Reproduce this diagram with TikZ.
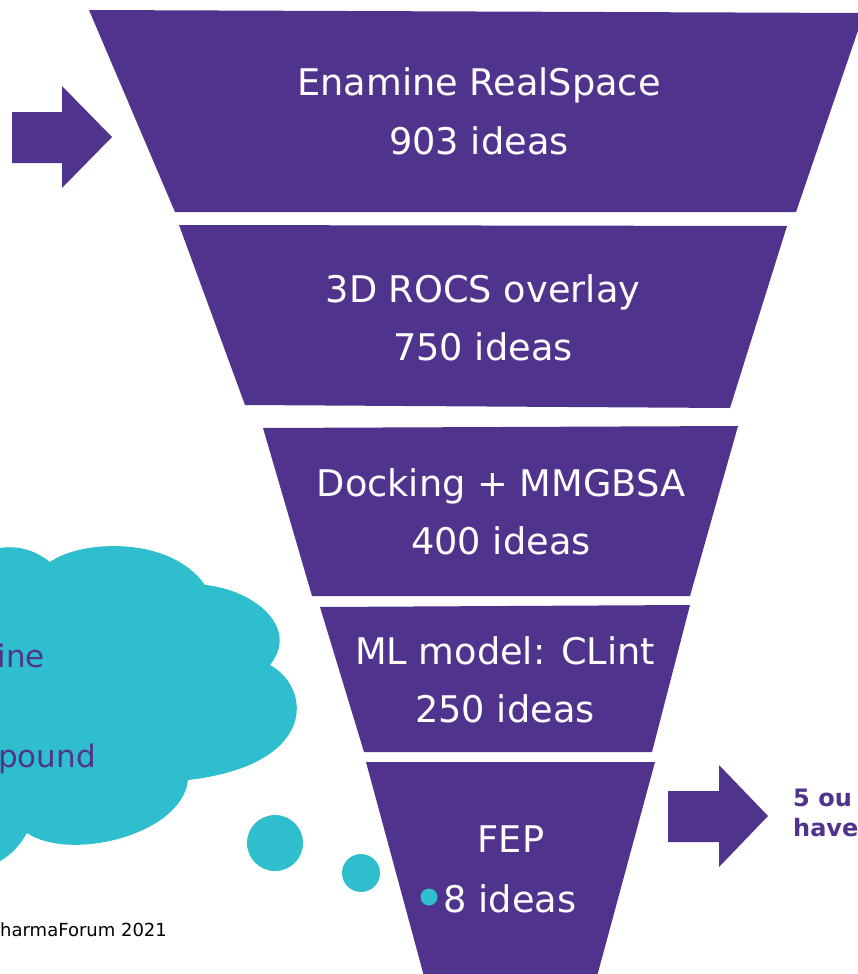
\documentclass[tikz,border=0pt]{standalone}
\usepackage{fontspec}
\setmainfont{DejaVu Sans}
\definecolor{fpurple}{RGB}{80,51,141}
\definecolor{fcyan}{RGB}{46,190,206}
\begin{document}
\begin{tikzpicture}[x=1pt,y=-1pt,
  stage/.style={fill=fpurple},
  lbl/.style={anchor=base, text=white, font=\fontsize{36.7}{42}\selectfont, inner sep=0pt},
  cloudtxt/.style={anchor=base east, text=fpurple, font=\fontsize{31}{36}\selectfont, inner sep=0pt},
  sidetxt/.style={anchor=base west, inner sep=0pt, text=fpurple, font=\bfseries\fontsize{24}{28}\selectfont},
  bubble/.style={circle, fill=fcyan, inner sep=0pt},
  bigarrow/.style={fill=fpurple}]
\useasboundingbox (0,0) rectangle (858,974);
\clip (0,0) rectangle (858,974);

% funnel stages
\path[stage] (89,10) -- (864,13) -- (796,212) -- (175,212) -- cycle;
\path[stage] (179,225) -- (787,226) -- (730,408) -- (245,405) -- cycle;
\path[stage] (263,428) -- (738,426) -- (690,596) -- (312,596) -- cycle;
\path[stage] (320,607) -- (690,605) -- (652,752) -- (364,752) -- cycle;
\path[stage] (366,762) -- (655,762) -- (596,980) -- (425,980) -- cycle;

% arrows
\path[bigarrow] (12,112) -- (62,112) -- (62,86) -- (112,137) -- (62,188) -- (62,163) -- (12,163) -- cycle;
\path[bigarrow] (668,791) -- (719,791) -- (719,765) -- (768,816) -- (719,867) -- (719,842) -- (668,842) -- cycle;

% cloud
\fill[fcyan] (-10,550) .. controls (15,543) and (35,550) .. (50,562)
  .. controls (80,540) and (170,535) .. (205,585)
  .. controls (255,590) and (300,628) .. (270,665)
  .. controls (312,688) and (318,765) .. (188,780)
  .. controls (182,835) and (70,862) .. (27,833)
  .. controls (20,845) and (10,858) .. (-10,866)
  -- (-20,866) -- (-20,550) -- cycle;
\node[bubble, minimum size=56pt] (bubbleA) at (275,843) {};
\node[bubble, minimum size=38pt] (bubbleB) at (361,873) {};
\node[bubble, minimum size=17pt] (bullet) at (429,897) {};

% stage labels
\node[lbl] (s1a) at (479,95) {Enamine RealSpace};
\node[lbl] (s1b) at (479,154) {903 ideas};
\node[lbl] (s2a) at (483,302) {3D ROCS overlay};
\node[lbl] (s2b) at (483,360) {750 ideas};
\node[lbl] (s3a) at (501,496) {Docking + MMGBSA};
\node[lbl] (s3b) at (501,554) {400 ideas};
\node[lbl] (s4a) at (505,664) {ML model: CLint};
\node[lbl] (s4b) at (505,722) {250 ideas};
\node[lbl] (s5a) at (511,852) {FEP};
\node[lbl] (s5b) at (510,912) {8 ideas};

% cloud text
\node[cloudtxt] (c1) at (45,667) {ine};
\node[cloudtxt] (c2) at (96,767) {pound};

% right text
\node[sidetxt] (r1) at (793,806) {5 ou};
\node[sidetxt] (r2) at (793,836) {have};

% footer
\node[anchor=base west, inner sep=0pt, text=black, font=\fontsize{18}{21}\selectfont] (foot) at (0,936) {harmaForum 2021};
\end{tikzpicture}
\end{document}
